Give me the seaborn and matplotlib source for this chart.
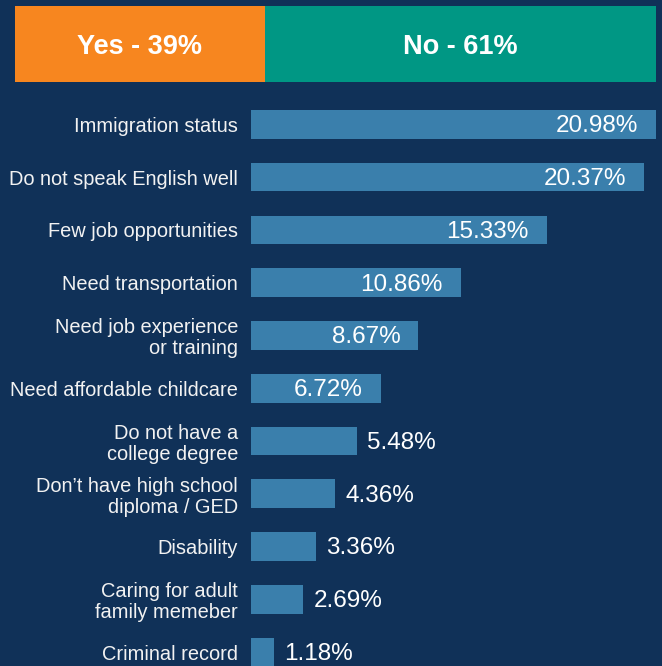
import matplotlib
matplotlib.use("Agg")
import matplotlib.pyplot as plt
import seaborn as sns
import pandas as pd

# Barriers to employment, share of respondents (%)
barriers = [
    "Immigration status",
    "Do not speak English well",
    "Few job opportunities",
    "Need transportation",
    "Need job experience\nor training",
    "Need affordable childcare",
    "Do not have a\ncollege degree",
    "Don\u2019t have high school\ndiploma / GED",
    "Disability",
    "Caring for adult\nfamily memeber",
    "Criminal record",
]
shares = [20.98, 20.37, 15.33, 10.86, 8.67, 6.72, 5.48, 4.36, 3.36, 2.69, 1.18]

# Yes / No split shown in the header strip
answer_labels = ["Yes", "No"]
answer_shares = [39, 61]

BG = "#103158"
BAR = "#3a7fac"
ANSWER_COLORS = ["#f7861f", "#009784"]

sns.set_theme(style="white")
plt.rcParams["font.family"] = ["Liberation Sans", "DejaVu Sans"]

W, H = 662, 666
fig = plt.figure(figsize=(W / 100, H / 100), dpi=100, facecolor=BG)

# ---- header strip: Yes / No stacked bar ----
ax_top = fig.add_axes([15 / W, 1 - 82 / H, 640.6 / W, 76 / H])
ax_top.set_facecolor(BG)
left = 0
for lab, val, col in zip(answer_labels, answer_shares, ANSWER_COLORS):
    ax_top.barh(0, val, left=left, height=1.0, color=col, linewidth=0)
    ax_top.annotate(f"{lab} - {val}%", xy=(left + val / 2, 0), xytext=(0, -2.2),
                    textcoords="offset points", ha="center", va="center",
                    color="white", fontsize=19.5, fontweight="bold")
    left += val
ax_top.set_xlim(0, 100)
ax_top.set_ylim(-0.5, 0.5)
ax_top.axis("off")

# ---- main horizontal bar chart ----
df = pd.DataFrame({"barrier": barriers, "share": shares})
x0 = 251
px_per_pct = 19.3
ax = fig.add_axes([x0 / W, 0, (W - x0) / W, 576 / H])
ax.set_facecolor(BG)
sns.barplot(data=df, x="share", y="barrier", orient="h", color=BAR,
            saturation=1, width=0.545, linewidth=0, ax=ax)

ax.set_xlim(0, (W - x0) / px_per_pct)
ax.set_ylim(10.26, -0.65)
ax.set_xlabel("")
ax.set_ylabel("")
ax.set_xticks([])
ax.tick_params(axis="y", length=0, pad=9.3, labelsize=14.4, labelcolor="#f2f2f2")
for lbl in ax.get_yticklabels():
    lbl.set_horizontalalignment("right")
    lbl.set_linespacing(1.12)
for s in ax.spines.values():
    s.set_visible(False)

for i, v in enumerate(shares):
    if v >= 6:
        ax.annotate(f"{v:.2f}%", xy=(v, i), xytext=(-13, -1.3), textcoords="offset points",
                    ha="right", va="center", color="white", fontsize=17.5)
    else:
        ax.annotate(f"{v:.2f}%", xy=(v, i), xytext=(7.6, -1.3), textcoords="offset points",
                    ha="left", va="center", color="white", fontsize=17.5)

fig.savefig("out.png", dpi=100, facecolor=BG)
